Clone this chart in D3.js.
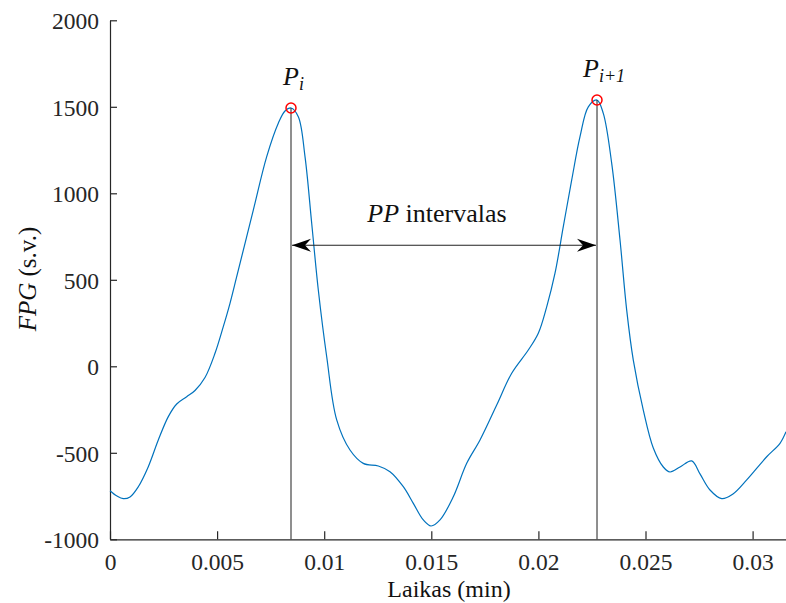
<!DOCTYPE html>
<html>
<head>
<meta charset="utf-8">
<script src="https://cdn.jsdelivr.net/npm/d3@7"></script>
<style>
  body { margin: 0; background: #fff; }
  svg { display: block; }
</style>
</head>
<body>
<div id="chart"></div>
<script>
"use strict";

// FPG signal (time in min, value in s.v.)
var timeMin = [
    0, 0.000327, 0.000621, 0.000934, 0.001321, 0.001788, 0.002255, 0.002722, 0.003114, 0.003581,
    0.003968, 0.004435, 0.004902, 0.005289, 0.005602, 0.005915, 0.00669, 0.007316, 0.007857, 0.00817,
    0.00845, 0.008791, 0.009104, 0.009416, 0.009725, 0.010117, 0.010584, 0.011204, 0.011825, 0.012526,
    0.013072, 0.013693, 0.01416, 0.014627, 0.014986, 0.015406, 0.016027, 0.016653, 0.017274, 0.018053,
    0.018754, 0.019528, 0.019995, 0.020387, 0.020775, 0.021162, 0.021555, 0.021942, 0.02233, 0.022736,
    0.02303, 0.023422, 0.02381, 0.024122, 0.02443, 0.024897, 0.025364, 0.025831, 0.026144, 0.026611,
    0.027157, 0.027544, 0.028011, 0.028558, 0.029085, 0.029725, 0.030658, 0.031279, 0.031559
];
var fpgValue = [
    -719, -750, -765, -755, -696, -580, -426, -291, -218, -176,
    -140, -65, 75, 229, 364, 518, 903, 1212, 1405, 1476,
    1493, 1443, 1212, 827, 441, 55, -310, -484, -561, -576,
    -609, -696, -792, -888, -923, -888, -754, -561, -426, -224,
    -40, 94, 191, 344, 538, 807, 1077, 1327, 1500, 1539,
    1462, 1173, 730, 325, 36, -253, -472, -582, -611, -582,
    -547, -622, -715, -765, -738, -657, -523, -445, -378
];

// detected peaks
var peakTime = [0.00845, 0.022736];
var peakValue = [1493, 1539];
var peakSub = ["i", "i+1"];
var peakDx = [-8, -14];

var xTicks = [0, 0.005, 0.01, 0.015, 0.02, 0.025, 0.03];
var xTickLabels = ["0", "0.005", "0.01", "0.015", "0.02", "0.025", "0.03"];
var yTicks = [-1000, -500, 0, 500, 1000, 1500, 2000];
var arrowLevel = 700;

var serif = "Liberation Serif";

var width = 786, height = 603;
var margin = {top: 20.3, right: 0, bottom: 63.7, left: 110};

var svg = d3.select("#chart").append("svg")
    .attr("width", width)
    .attr("height", height)
    .attr("font-family", serif);

var x = d3.scaleLinear()
    .domain([0, 0.031559])
    .range([margin.left, width - margin.right]);
var y = d3.scaleLinear()
    .domain([-1000, 2000])
    .range([height - margin.bottom, margin.top]);

var defs = svg.append("defs");
defs.append("marker")
    .attr("id", "arrowHead")
    .attr("viewBox", "-20 -10 22 20")
    .attr("refX", 0)
    .attr("refY", 0)
    .attr("markerWidth", 22)
    .attr("markerHeight", 20)
    .attr("markerUnits", "userSpaceOnUse")
    .attr("orient", "auto-start-reverse")
    .append("path")
    .attr("d", "M0,0 L-19,-6.5 L-13,0 L-19,6.5 Z")
    .attr("fill", "#000");

// axes
var xAxis = svg.append("g")
    .attr("transform", "translate(0," + y(-1000) + ")")
    .call(d3.axisBottom(x)
        .tickValues(xTicks)
        .tickFormat(function (d, i) { return xTickLabels[i]; })
        .tickSizeInner(-8)
        .tickSizeOuter(0));
xAxis.selectAll(".tick text").attr("y", 30.5).attr("dy", null);

var yAxis = svg.append("g")
    .attr("transform", "translate(" + x(0) + ",0)")
    .call(d3.axisLeft(y)
        .tickValues(yTicks)
        .tickFormat(function (d) { return String(d); })
        .tickSizeInner(-7)
        .tickSizeOuter(0)
        .tickPadding(11));
yAxis.selectAll(".tick text").attr("dy", "0.36em");

svg.selectAll("g").attr("font-family", serif);
svg.selectAll(".tick text")
    .attr("font-family", serif)
    .attr("font-size", 23.5)
    .attr("fill", "#262626");
svg.selectAll(".domain, .tick line")
    .attr("stroke", "#262626")
    .attr("stroke-width", 1.2);

// signal
var points = timeMin.map(function (t, i) { return [t, fpgValue[i]]; });
var line = d3.line()
    .x(function (d) { return x(d[0]); })
    .y(function (d) { return y(d[1]); })
    .curve(d3.curveCatmullRom.alpha(0.5));

svg.append("path")
    .datum(points)
    .attr("fill", "none")
    .attr("stroke", "#0072BD")
    .attr("stroke-width", 1.2)
    .attr("d", line);

// peak guide lines
svg.append("g").selectAll("line")
    .data(peakTime)
    .enter().append("line")
    .attr("x1", function (d) { return x(d); })
    .attr("x2", function (d) { return x(d); })
    .attr("y1", function (d, i) { return y(peakValue[i]); })
    .attr("y2", y(-1000))
    .attr("stroke", "#333")
    .attr("stroke-width", 1.1);

// PP interval arrow
svg.append("line")
    .attr("x1", x(peakTime[0]) + 1)
    .attr("x2", x(peakTime[1]) - 1)
    .attr("y1", y(arrowLevel))
    .attr("y2", y(arrowLevel))
    .attr("stroke", "#222")
    .attr("stroke-width", 1.1)
    .attr("marker-start", "url(#arrowHead)")
    .attr("marker-end", "url(#arrowHead)");

var ppText = svg.append("text")
    .attr("x", 437)
    .attr("y", 221.5)
    .attr("text-anchor", "middle")
    .attr("font-family", serif)
    .attr("font-size", 26)
    .attr("fill", "#111");
ppText.append("tspan").attr("font-style", "italic").text("PP");
ppText.append("tspan").text(" intervalas");

// peak markers
svg.append("g").selectAll("circle")
    .data(peakTime)
    .enter().append("circle")
    .attr("cx", function (d) { return x(d); })
    .attr("cy", function (d, i) { return y(peakValue[i]); })
    .attr("r", 5)
    .attr("fill", "none")
    .attr("stroke", "#FF0000")
    .attr("stroke-width", 1.5);

// peak labels
peakTime.forEach(function (t, i) {
    var lab = svg.append("text")
        .attr("x", x(t) + peakDx[i])
        .attr("y", y(peakValue[i]) - 23)
        .attr("font-family", serif)
        .attr("font-size", 26)
        .attr("fill", "#111");
    lab.append("tspan").attr("font-style", "italic").text("P");
    lab.append("tspan")
        .attr("dy", 5)
        .attr("font-style", "italic")
        .attr("font-size", 18)
        .text(peakSub[i]);
});

// axis titles
svg.append("text")
    .attr("x", 449)
    .attr("y", 596.5)
    .attr("text-anchor", "middle")
    .attr("font-family", serif)
    .attr("font-size", 24)
    .attr("fill", "#111")
    .text("Laikas (min)");

var yTitle = svg.append("text")
    .attr("transform", "translate(36," + 279 + ") rotate(-90)")
    .attr("text-anchor", "middle")
    .attr("font-family", serif)
    .attr("font-size", 25)
    .attr("fill", "#111");
yTitle.append("tspan").attr("font-style", "italic").text("FPG");
yTitle.append("tspan").text(" (s.v.)");
</script>
</body>
</html>
